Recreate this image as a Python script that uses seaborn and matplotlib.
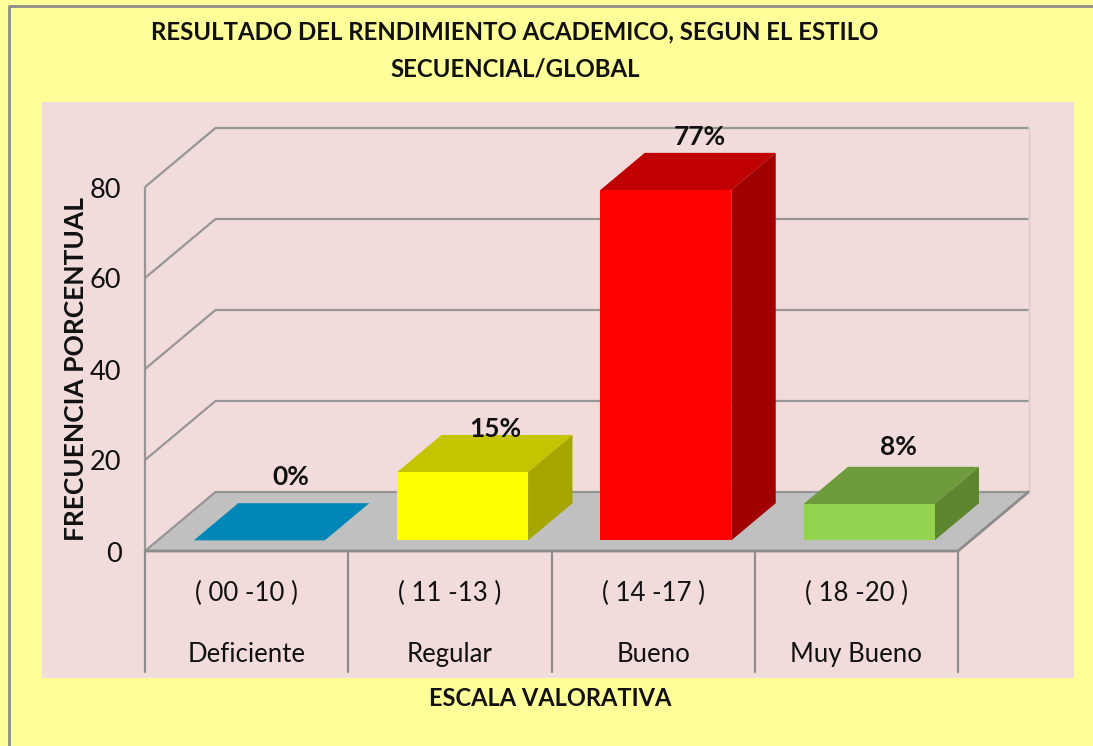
import matplotlib
matplotlib.use("Agg")
import matplotlib.pyplot as plt
from matplotlib.patches import Polygon, Rectangle
from matplotlib.transforms import ScaledTranslation
import seaborn as sns
import pandas as pd

categories = ["( 00 -10 )", "( 11 -13 )", "( 14 -17 )", "( 18 -20 )"]
grades = ["Deficiente", "Regular", "Bueno", "Muy Bueno"]
values = [0, 15, 77, 8]
value_labels = ["0%", "15%", "77%", "8%"]
y_ticks = [0, 20, 40, 60, 80]
front_colors = ["#0087B8", "#FFFF00", "#FF0000", "#92D350"]
top_colors = ["#0087B8", "#C4C400", "#C00000", "#6E9C3C"]
side_colors = ["#0087B8", "#A6A600", "#A00000", "#5E8631"]
title = "RESULTADO DEL RENDIMIENTO ACADEMICO, SEGUN EL ESTILO\nSECUENCIAL/GLOBAL"
x_title = "ESCALA VALORATIVA"
y_title = "FRECUENCIA PORCENTUAL"

W, H = 1093, 746
sns.set_theme(style="white")
plt.rcParams["font.family"] = ["Lato", "DejaVu Sans"]

fig = plt.figure(figsize=(W / 100, H / 100), dpi=100, facecolor="#FFFF99")


def fx(px):
    return px / W


def fy(py):
    return 1 - py / H


# frame and plot-area panel
fig.add_artist(plt.Line2D([fx(9), fx(9), 1], [0, fy(6), fy(6)], color="#8C8C8C", lw=2))
fig.add_artist(Rectangle((fx(42), fy(678)), fx(1074 - 42), (678 - 102) / H,
                         transform=fig.transFigure, fc="#F2DCDB", ec="none", zorder=0))

ax = fig.add_axes([fx(145), fy(551), fx(958 - 145), (551 - 187) / H])
ax.patch.set_visible(False)

df = pd.DataFrame({"cat": categories, "val": values})
sns.barplot(data=df, x="cat", y="val", hue="cat", palette=front_colors, legend=False,
            width=131 / 203.25, saturation=1, ax=ax, zorder=5, edgecolor="none", linewidth=0)
ax.set_xlim(-0.5, 3.5)
ax.set_ylim(0, 80)

# oblique projection: depth 1 = back wall, expressed in data units
DX = 70.5 / 203.25
DY = 59 / 4.55
d0, d1 = 0.18, 0.81
line = dict(color="#969696", lw=1.6, clip_on=False, solid_capstyle="butt", zorder=1)

# floor
ax.add_patch(Polygon([(-0.5, 0), (3.5, 0), (3.5 + DX, DY), (-0.5 + DX, DY)], closed=True,
                     fc="#C0C0C0", ec="none", clip_on=False, zorder=0.5))
# walls and gridlines
for t in y_ticks:
    ax.plot([-0.5, -0.5 + DX, 3.5 + DX], [t, t + DY, t + DY], **line)
ax.plot([-0.5, -0.5], [0, 80], **line)
ax.plot([-0.5, 3.5, 3.5 + DX], [0, 0, DY], color="#8C8C8C", lw=2, clip_on=False, zorder=2)
ax.plot([3.5 + DX, 3.5 + DX], [DY, 80 + DY], color="#DCC8C8", lw=1, clip_on=False, zorder=1)

# 3-D bar bodies, derived from the seaborn bars
bars = [p for p in ax.patches if isinstance(p, Rectangle)]
for bar, top, side, val in zip(bars, top_colors, side_colors, values):
    x0, w = bar.get_x(), bar.get_width()
    xa, xb = x0 + d0 * DX, x0 + w + d0 * DX
    ya = d0 * DY
    bar.set_x(xa)
    bar.set_y(ya)
    bar.set_clip_on(False)
    off_x, off_y = (d1 - d0) * DX, (d1 - d0) * DY
    ax.add_patch(Polygon([(xa, ya + val), (xb, ya + val), (xb + off_x, ya + val + off_y),
                          (xa + off_x, ya + val + off_y)], closed=True, fc=top, ec="none",
                         clip_on=False, zorder=4))
    ax.add_patch(Polygon([(xb, ya), (xb + off_x, ya + off_y), (xb + off_x, ya + val + off_y),
                          (xb, ya + val)], closed=True, fc=side, ec="none",
                         clip_on=False, zorder=4))

# value labels
label_dx = [0.215, 0.225, 0.23, 0.205]
label_dy = [5.8, 1.3, 3.5, 4.4]
for i, (val, lab) in enumerate(zip(values, value_labels)):
    ax.text(i + label_dx[i], val + label_dy[i] + d1 * DY, lab, ha="center", va="center",
            fontsize=19, fontweight="bold", color="#111111", clip_on=False, zorder=7)

# axes furniture
for s in ax.spines.values():
    s.set_visible(False)
ax.set_yticks(y_ticks)
ax.set_yticklabels([str(t) for t in y_ticks], fontsize=19.5, color="#111111", va="center")
ax.tick_params(axis="y", length=0, pad=17)
shift = ScaledTranslation(0, -3 / 100, fig.dpi_scale_trans)
for lbl in ax.get_yticklabels():
    lbl.set_transform(lbl.get_transform() + shift)
ax.set_xticks(range(4))
ax.set_xticklabels([""] * 4)
ax.tick_params(axis="x", length=0)
ax.set_xlabel("")
ax.set_ylabel("")
blend = ax.get_xaxis_transform()
for i, (c, g) in enumerate(zip(categories, grades)):
    ax.text(i, 1 - (593.5 - 187) / 364, c, transform=blend, ha="center", va="center",
            fontsize=18.5, color="#111111", clip_on=False)
    ax.text(i, 1 - (654.5 - 187) / 364, g, transform=blend, ha="center", va="center",
            fontsize=18.5, color="#111111", clip_on=False)
for x in [-0.5, 0.5, 1.5, 2.5, 3.5]:
    ax.plot([x, x], [0, -(672 - 551) / 4.55], color="#8C8C8C", lw=1.6, clip_on=False, zorder=1)

fig.text(fx(515), fy(50.5), title, ha="center", va="center", fontsize=17.3, fontweight="bold",
         color="#111111", linespacing=1.75)
fig.text(fx(550), fy(698), x_title, ha="center", va="center", fontsize=17, fontweight="bold",
         color="#111111")
fig.text(fx(76), fy(369), y_title, ha="center", va="center", rotation=90, fontsize=19,
         fontweight="bold", color="#111111")

fig.savefig("out.png", dpi=100, facecolor=fig.get_facecolor())
